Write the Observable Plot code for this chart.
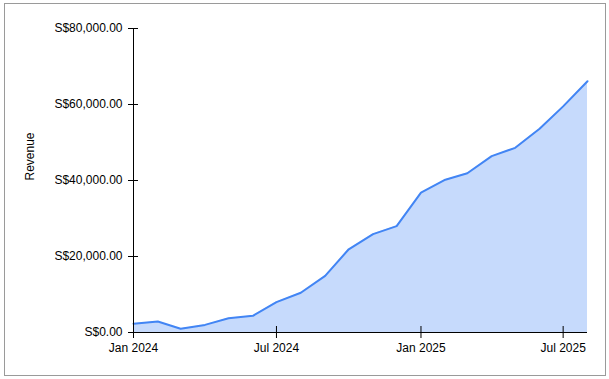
<!DOCTYPE html>
<html>
<head>
<meta charset="utf-8">
<script src="https://cdn.jsdelivr.net/npm/d3@7"></script>
<script src="https://cdn.jsdelivr.net/npm/@observablehq/plot@0.6"></script>
<style>
  html, body { margin: 0; padding: 0; background: #fff; }
  #wrap { position: relative; width: 609px; height: 379px; }
  #frame { position: absolute; left: 4px; top: 3px; width: 602px; height: 373px; box-sizing: border-box; border: 1px solid #9a9a9a; }
  #chart { position: absolute; left: 0; top: 0; }
</style>
</head>
<body>
<div id="wrap"><div id="frame"></div><div id="chart"></div></div>
<script>
const months = ["2024-01","2024-02","2024-03","2024-04","2024-05","2024-06","2024-07","2024-08","2024-09","2024-10","2024-11","2024-12","2025-01","2025-02","2025-03","2025-04","2025-05","2025-06","2025-07","2025-08"];
const revenue = [2300, 2900, 1000, 2000, 3750, 4400, 8000, 10450, 14900, 21900, 25900, 28000, 36800, 40200, 41900, 46400, 48600, 53600, 59500, 66100];
const yTicks = [0, 20000, 40000, 60000, 80000];
const xTicks = ["2024-01","2024-07","2025-01","2025-07"];

const data = months.map((m, i) => ({date: new Date(m + "-01T00:00:00Z"), value: revenue[i]}));
const xTickDates = xTicks.map(m => new Date(m + "-01T00:00:00Z"));
const fmtY = d => "S$" + d3.format(",.2f")(d);
const fmtX = d3.utcFormat("%b %Y");

const chart = Plot.plot({
  width: 609,
  height: 379,
  marginLeft: 133,
  marginRight: 22,
  marginTop: 28,
  marginBottom: 47,
  style: {fontFamily: "'Liberation Sans', Arial, sans-serif", fontSize: "12px", color: "#000", background: "transparent"},
  x: {type: "utc", domain: [data[0].date, data[data.length - 1].date]},
  y: {domain: [0, 80000]},
  marks: [
    Plot.areaY(data, {x: "date", y: "value", fill: "#c6dafc"}),
    Plot.lineY(data, {x: "date", y: "value", stroke: "#4285f4", strokeWidth: 2}),
    Plot.ruleY([0], {stroke: "#000"}),
    Plot.ruleX([data[0].date], {stroke: "#000"}),
    Plot.axisX({ticks: xTickDates, tickSize: 12, dy: -6, tickFormat: () => "", label: null, stroke: "#000"}),
    Plot.axisX({ticks: xTickDates, tickSize: 0, tickPadding: 11, tickFormat: fmtX, label: null, fill: "#000"}),
    Plot.axisY({ticks: yTicks, tickSize: 10, dx: 5, tickFormat: () => "", label: null, stroke: "#000"}),
    Plot.axisY({ticks: yTicks, tickSize: 0, tickPadding: 11, tickFormat: fmtY, label: null, fill: "#000"}),
    Plot.text(["Revenue"], {frameAnchor: "left", rotate: -90, dx: -103, text: d => d, fill: "#000", fontSize: 12})
  ]
});
document.getElementById("chart").appendChild(chart);
</script>
</body>
</html>
